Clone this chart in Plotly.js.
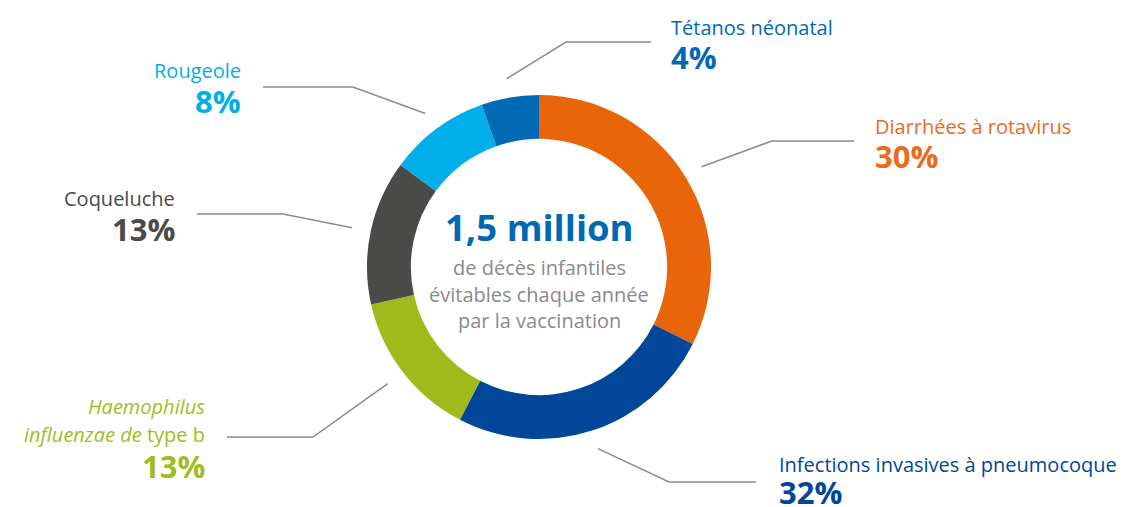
<!DOCTYPE html>
<html>
<head>
<meta charset="utf-8">
<script src="https://cdn.plot.ly/plotly-3.0.1.min.js"></script>
<style>html,body{margin:0;padding:0;background:#fff;}#chart{width:1128px;height:507px;}</style>
</head>
<body>
<div id="chart"></div>
<script>
// ---- data ----
const categories = ['Diarrhées à rotavirus', 'Infections invasives à pneumocoque', 'Haemophilus influenzae de type b', 'Coqueluche', 'Rougeole', 'Tétanos néonatal'];
const labelPercents = [30, 32, 13, 13, 8, 4];
const sliceShares = [32.4, 25.2, 13.9, 13.6, 9.5, 5.4]; // arc sizes as drawn
const sliceColors = ['#E8650A', '#00479A', '#A0BA1B', '#4A4A49', '#00AEEA', '#006AB4'];
const labelColors = ['#EA6A1E', '#00479A', '#9FBD1E', '#4A4A49', '#00AEEA', '#0069B4'];
const nameLines = [
  ['Diarrhées à rotavirus'],
  ['Infections invasives à pneumocoque'],
  ['<i>Haemophilus</i>', '<i>influenzae de</i> type b'],
  ['Coqueluche'],
  ['Rougeole'],
  ['Tétanos néonatal']
];
const centerTitle = '1,5 million';
const centerSub = ['de décès infantiles', 'évitables chaque année', 'par la vaccination'];

// ---- layout constants (pixels) ----
const W = 1128, H = 507;
const CX = 539, CY = 267, R = 172;
const FONT = '"Open Sans", "Noto Sans", sans-serif';
const NAME_SIZE = 20, PCT_SIZE = 31;
// per-label: text anchor x, align, name baselines, pct baseline, elbow, end of leader
const labelPos = [
  {x: 873, align: 'left',  nameBase: [133], pctBase: 167, elbow: [772, 141], end: [854, 141]},
  {x: 777, align: 'left',  nameBase: [471], pctBase: 503, elbow: [669, 482], end: [756, 482]},
  {x: 207, align: 'right', nameBase: [413, 441.5], pctBase: 477, elbow: [313, 437], end: [227, 437]},
  {x: 177, align: 'right', nameBase: [205], pctBase: 240, elbow: [283, 214], end: [197, 214]},
  {x: 243, align: 'right', nameBase: [77], pctBase: 112, elbow: [353, 87], end: [263, 87]},
  {x: 669, align: 'left',  nameBase: [34], pctBase: 68, elbow: [566, 42], end: [651, 42]}
];
const LEADER_R = 191;

const px = x => x / W;
const py = y => 1 - y / H;

const trace = {
  type: 'pie',
  labels: categories,
  values: sliceShares,
  sort: false,
  direction: 'clockwise',
  rotation: 0,
  hole: 0.745,
  textinfo: 'none',
  hoverinfo: 'label',
  marker: {colors: sliceColors, line: {width: 0}},
  domain: {x: [px(CX - R), px(CX + R)], y: [py(CY + R), py(CY - R)]},
  showlegend: false
};

const annotations = [];
const shapes = [];
function addText(text, x, baseline, size, color, align, bold) {
  annotations.push({
    xref: 'paper', yref: 'paper',
    x: px(x), y: py(baseline - 0.34 * size),
    xanchor: align, yanchor: 'middle',
    text: bold ? '<b>' + text + '</b>' : text,
    showarrow: false,
    font: {family: FONT, size: size, color: color},
    align: align
  });
}

const total = sliceShares.reduce((a, b) => a + b, 0);
let cum = 0;
sliceShares.forEach((v, i) => {
  const mid = (cum + v / 2) / total * 2 * Math.PI;
  cum += v;
  const sx = CX + LEADER_R * Math.sin(mid);
  const sy = CY - LEADER_R * Math.cos(mid);
  const p = labelPos[i];
  shapes.push({
    type: 'path', xref: 'paper', yref: 'paper',
    path: `M ${px(sx)},${py(sy)} L ${px(p.elbow[0])},${py(p.elbow[1])} L ${px(p.end[0])},${py(p.end[1])}`,
    line: {color: '#8C8C8C', width: 1.5}
  });
  nameLines[i].forEach((t, k) => addText(t, p.x, p.nameBase[k], NAME_SIZE, labelColors[i], p.align, false));
  addText(labelPercents[i] + '%', p.x, p.pctBase, PCT_SIZE, labelColors[i], p.align, true);
});

// center text
addText(centerTitle, CX, 239, 36.5, '#0069B4', 'center', true);
const subBase = [274, 301, 327];
centerSub.forEach((t, k) => addText(t, CX, subBase[k], 20, '#8A8A8A', 'center', false));

const layout = {
  width: W, height: H,
  margin: {l: 0, r: 0, t: 0, b: 0},
  paper_bgcolor: '#ffffff',
  plot_bgcolor: '#ffffff',
  annotations: annotations,
  shapes: shapes,
  showlegend: false
};

Plotly.newPlot('chart', [trace], layout, {displayModeBar: false, staticPlot: true});
</script>
</body>
</html>
